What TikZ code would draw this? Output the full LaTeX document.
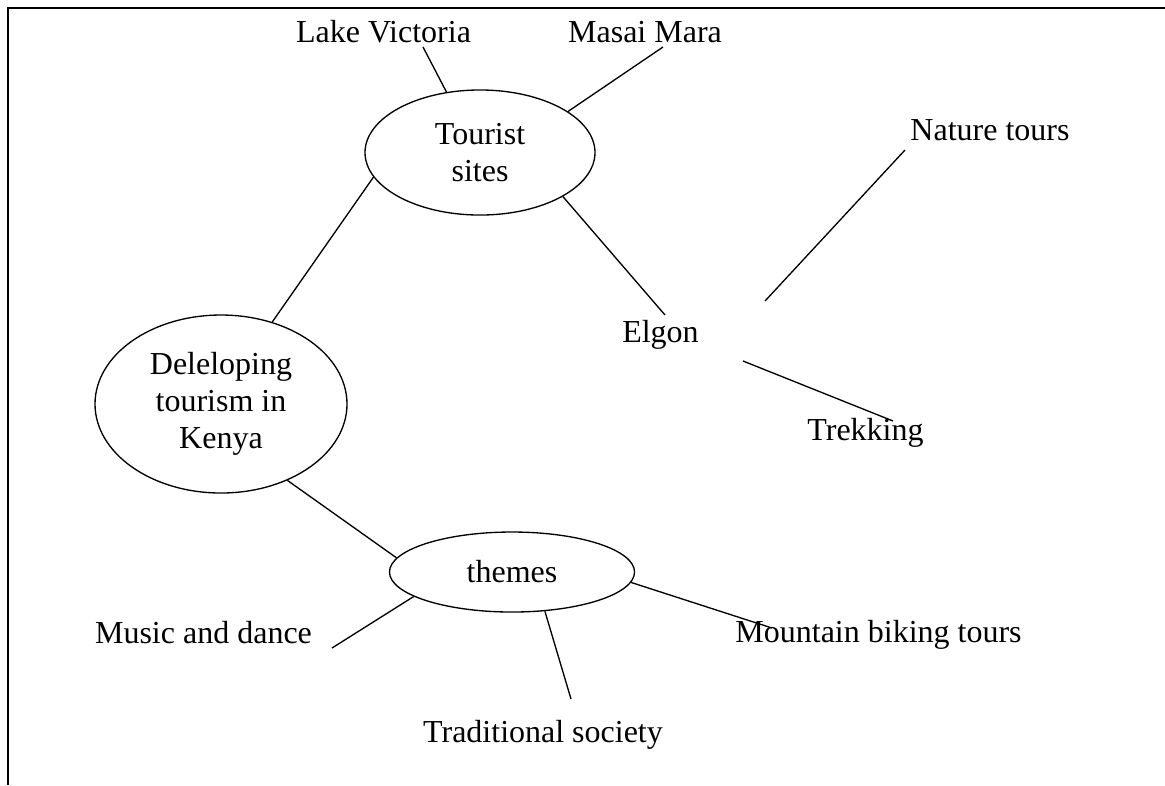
\documentclass[tikz,border=0pt]{standalone}
\usepackage{fontspec}
\setmainfont{Liberation Serif}
\usetikzlibrary{shapes.geometric}

\tikzset{
  bubble/.style={ellipse, draw, line width=0.5pt, inner sep=0pt, align=center,
    font=\fontsize{12}{13.8}\selectfont},
  leaf/.style={inner sep=0pt, anchor=base, font=\fontsize{12}{13.8}\selectfont},
  branch/.style={line width=0.5pt}
}

\begin{document}
\begin{tikzpicture}[x=0.375pt,y=-0.375pt]
    \useasboundingbox (0,0) rectangle (1165,785);
    \draw[line width=0.75pt] (8,785) -- (8,8) -- (1165,8);

    \node[bubble, minimum width=86.25pt, minimum height=46.9pt] (sites) at (480,152.5) {Tourist\\sites};
    \node[bubble, minimum width=94.5pt, minimum height=66.75pt] (kenya) at (221,404) {Deleloping\\tourism in\\Kenya};
    \node[bubble, minimum width=91.9pt, minimum height=30pt] (themes) at (512,572) {themes};

    \node[leaf] (lake) at (383.5,42) {Lake Victoria};
    \node[leaf] (mara) at (645,42) {Masai Mara};
    \node[leaf] (nature) at (990,140) {Nature tours};
    \node[leaf] (elgon) at (660.5,342) {Elgon};
    \node[leaf] (trek) at (865.5,440) {Trekking};
    \node[leaf] (music) at (203.5,643) {Music and dance};
    \node[leaf] (bike) at (878.5,642) {Mountain biking tours};
    \node[leaf] (trad) at (543,742) {Traditional society};

    \coordinate (lake-end) at (423,47);
    \coordinate (mara-end) at (663,47);
    \coordinate (elgon-end) at (665,315);
    \coordinate (nature-a) at (765,301);
    \coordinate (nature-b) at (905,150);
    \coordinate (trek-a) at (743,361);
    \coordinate (trek-b) at (893,421);
    \coordinate (music-end) at (332,648);
    \coordinate (trad-end) at (571,699);
    \coordinate (bike-end) at (772,628);

    \draw[branch] (sites.119) -- (lake-end);
    \draw[branch] (sites.25) -- (mara-end);
    \draw[branch] (sites.193) -- (kenya.58);
    \draw[branch] (sites.332) -- (elgon-end);
    \draw[branch] (nature-a) -- (nature-b);
    \draw[branch] (trek-a) -- (trek-b);
    \draw[branch] (kenya.311) -- (themes.173);
    \draw[branch] (themes.194) -- (music-end);
    \draw[branch] (themes.310) -- (trad-end);
    \draw[branch] (themes.355) -- (bike-end);
\end{tikzpicture}
\end{document}
